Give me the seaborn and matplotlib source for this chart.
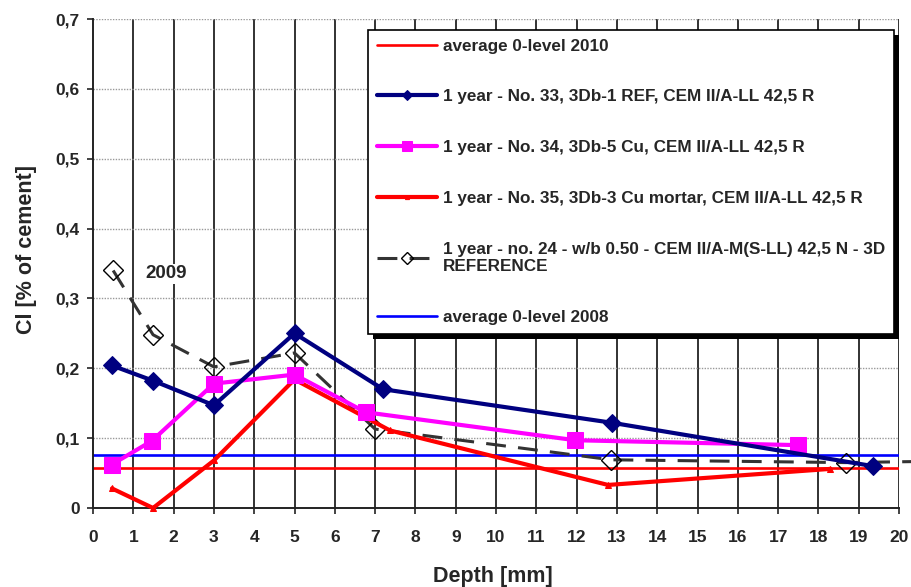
import matplotlib
matplotlib.use("Agg")
import matplotlib.pyplot as plt
import matplotlib.patheffects as pe
import seaborn as sns
import numpy as np
import pandas as pd

# ---- data ----
navy_x = [0.47, 1.5, 3.0, 5.0, 7.2, 12.88, 19.35]
navy_y = [0.204, 0.182, 0.147, 0.250, 0.170, 0.122, 0.060]

mag_x = [0.46, 1.46, 3.0, 5.0, 6.77, 11.97, 17.5]
mag_y = [0.062, 0.096, 0.178, 0.191, 0.137, 0.097, 0.090]

red_x = [0.47, 1.49, 3.0, 5.0, 7.37, 12.78, 18.3]
red_y = [0.028, 0.0, 0.068, 0.184, 0.111, 0.033, 0.056]

ref_x = [0.5, 1.49, 3.0, 5.0, 7.0, 12.86, 18.68, 21.0]
ref_y = [0.340, 0.248, 0.202, 0.222, 0.113, 0.069, 0.065, 0.067]

avg2010 = 0.057
avg2008 = 0.076

labels = [
    "average 0-level 2010",
    "1 year - No. 33, 3Db-1 REF, CEM II/A-LL 42,5 R",
    "1 year - No. 34, 3Db-5 Cu, CEM II/A-LL 42,5 R",
    "1 year - No. 35, 3Db-3 Cu mortar, CEM II/A-LL 42,5 R",
    "1 year - no. 24 - w/b 0.50 - CEM II/A-M(S-LL) 42,5 N - 3D\nREFERENCE",
    "average 0-level 2008",
]
annot_text = "2009"
annot_x, annot_y = 1.81, 0.335
xticks = list(range(0, 21))
yticks = [0, 0.1, 0.2, 0.3, 0.4, 0.5, 0.6, 0.7]
ytick_labels = ["0", "0,1", "0,2", "0,3", "0,4", "0,5", "0,6", "0,7"]

sns.set_style("white")
plt.rcParams["font.family"] = ["Liberation Sans", "DejaVu Sans"]
plt.rcParams["font.weight"] = "bold"

fig = plt.figure(figsize=(9.12, 5.87), dpi=100)
ax = fig.add_axes([93/912, 1-508/587, (899-93)/912, (508-19)/587])

h_2010 = ax.axhline(avg2010, color="#ff0000", lw=1.9, zorder=2)
h_2008 = ax.axhline(avg2008, color="#0000ff", lw=1.9, zorder=2)

sns.lineplot(x=ref_x, y=ref_y, ax=ax, color="#333333", lw=2.2,
             linestyle=(0, (6.5, 4)), marker="D", markersize=10,
             markerfacecolor="none", markeredgecolor="black", markeredgewidth=1.0,
             clip_on=False, zorder=3)
l_ref = ax.lines[-1]
sns.lineplot(x=red_x, y=red_y, ax=ax, color="#ff0000", lw=3, marker="^",
             markersize=5, markeredgecolor="#ff0000", zorder=4, clip_on=False)
l_red = ax.lines[-1]
sns.lineplot(x=mag_x, y=mag_y, ax=ax, color="#ff00ff", lw=3, marker="s",
             markersize=12, markeredgecolor="#ff00ff", zorder=5)
l_mag = ax.lines[-1]
sns.lineplot(x=navy_x, y=navy_y, ax=ax, color="#000080", lw=3, marker="D",
             markersize=9, markeredgecolor="#000080", zorder=6)
l_navy = ax.lines[-1]

ax.set_xlim(0, 20)
ax.set_ylim(0, 0.7)
ax.set_xticks(xticks)
ax.set_xticklabels([str(t) for t in xticks], fontsize=12.5, fontweight="bold")
ax.set_yticks(yticks)
ax.set_yticklabels(ytick_labels, fontsize=12.5, fontweight="bold")
ax.tick_params(axis="both", direction="out", length=4.5, width=1.2, color="#222222",
               bottom=True, left=True)
ax.tick_params(axis="x", pad=11.5)
ax.tick_params(axis="y", pad=5)

ax.grid(False)
for xv in xticks[1:]:
    ax.axvline(xv, color="#222222", lw=1.3, zorder=1)
for yv in yticks[1:]:
    ax.axhline(yv, color="#999999", lw=1.0, ls=(0, (1, 1)), zorder=1)

for s in ["top", "right"]:
    ax.spines[s].set_visible(False)
for s in ["left", "bottom"]:
    ax.spines[s].set_color("#222222")
    ax.spines[s].set_linewidth(1.4)

ax.set_xlabel("Depth [mm]", fontsize=15.5, fontweight="bold")
ax.set_ylabel("Cl [% of cement]", fontsize=15.5, fontweight="bold")
ax.xaxis.set_label_coords((493-93)/806, -(566-508)/489)
ax.yaxis.set_label_coords((37-93)/806, (508-250)/489)

ax.text(annot_x, annot_y, annot_text,
        fontsize=13.5, fontweight="bold", ha="center", va="center",
        bbox=dict(facecolor="white", edgecolor="none", pad=1), zorder=2)

handles = [h_2010, l_navy, l_mag, l_red, l_ref, h_2008]
leg = fig.legend(handles, labels, loc="upper left",
                 bbox_to_anchor=(368/912, 1-30/587),
                 prop={"size": 12.3, "weight": "bold"},
                 frameon=True, fancybox=False, shadow=False,
                 edgecolor="black", framealpha=1, handlelength=3.55,
                 handletextpad=0.35, labelspacing=2.1, borderpad=0.5,
                 borderaxespad=0, markerscale=0.6)
frame = leg.get_frame()
frame.set_linewidth(1.2)
frame.set_path_effects([pe.SimplePatchShadow(offset=(3.5, -3.5), shadow_rgbFace="black", alpha=1.0),
                        pe.Normal()])

fig.savefig("out.png", dpi=100)
